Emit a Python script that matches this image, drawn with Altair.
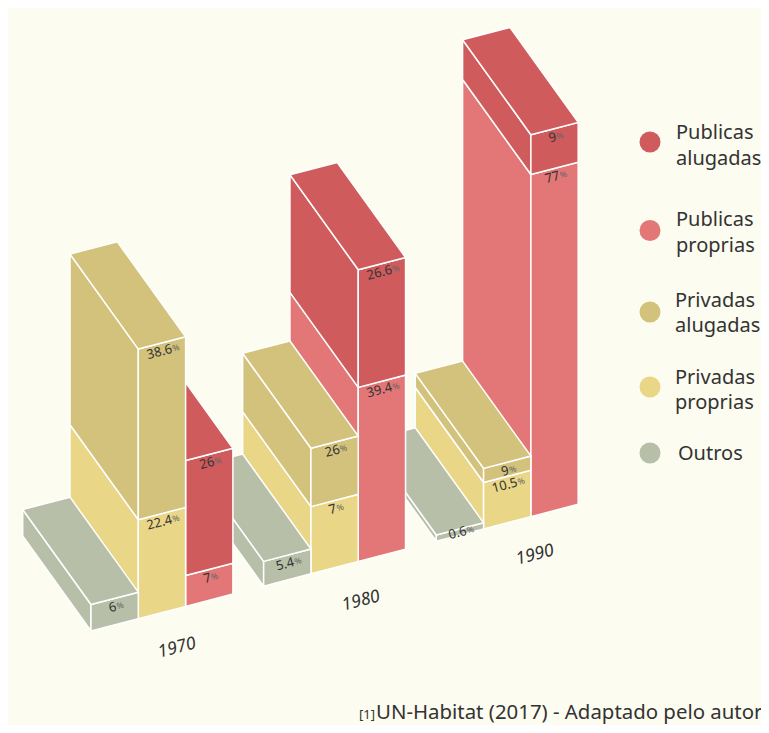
import math
import altair as alt
import pandas as pd

years = ["1970", "1980", "1990"]
series = ["Outros", "Privadas proprias", "Privadas alugadas", "Publicas proprias", "Publicas alugadas"]
colors = ["#b8bfa9", "#e9d687", "#d3c27b", "#e37777", "#cf5b5d"]
columns = [0, 1, 1, 2, 2]
heights = [
    [6, 5.6, 1.4],
    [22.4, 15.2, 10.5],
    [38.6, 13.2, 3.2],
    [7, 39.4, 77.4],
    [26, 26.6, 9],
]
labels = [
    ["6", "5.4", "0.6"],
    ["22.4", "7", "10.5"],
    ["38.6", "26", "9"],
    ["7", "39.4", "77"],
    ["26", "26.6", "9"],
]
legend_lines = [["Publicas", "alugadas"], ["Publicas", "proprias"], ["Privadas", "alugadas"], ["Privadas", "proprias"], ["Outros"]]
legend_series = ["Publicas alugadas", "Publicas proprias", "Privadas alugadas", "Privadas proprias", "Outros"]
source_ref = "[1]"
source_text = "UN-Habitat (2017) - Adaptado pelo autor"

W, H = 753, 717
FONT = "Noto Sans"
INK = "#333333"
ANGLE = 345.4
RAD = math.radians(14.6)
GROUP_STEP = 3.65


def project(u, depth, h):
    return 83 + 47.3 * u - 68.3 * depth, 623 - 12.3 * u - 95 * depth - 4.42 * h


rows, num_rows, pct_rows = [], [], []
poly = 0


def add_face(name, corners):
    global poly
    poly += 1
    for i, c in enumerate(corners + corners[:1]):
        x, y = project(*c)
        rows.append({"poly": poly, "ord": i, "x": x, "y": y, "series": name})


for g in range(2, -1, -1):
    for col in range(2, -1, -1):
        members = [s for s in range(5) if columns[s] == col]
        base = 0
        for s in members:
            u = col + g * GROUP_STEP
            h0, h1 = base, base + heights[s][g]
            add_face(series[s], [(u, 0, h0), (u, 1, h0), (u, 1, h1), (u, 0, h1)])
            add_face(series[s], [(u, 0, h0), (u + 1, 0, h0), (u + 1, 0, h1), (u, 0, h1)])
            if s == members[-1]:
                add_face(series[s], [(u, 0, h1), (u + 1, 0, h1), (u + 1, 1, h1), (u, 1, h1)])
            base = h1
            cx, cy = project(u + 0.5, 0, h1)
            text = labels[s][g]
            cx += 2
            cy += 3 if text == "0.6" else 8
            wn = sum(3.3 if ch == "." else 7.1 for ch in text)
            off = (wn - 8) / 2
            sx, sy = cx + off * math.cos(RAD), cy - off * math.sin(RAD)
            num_rows.append({"x": sx, "y": sy, "t": text})
            pct_rows.append({"x": sx, "y": sy, "t": "%"})

faces = pd.DataFrame(rows)
x_enc = alt.X("x:Q", scale=alt.Scale(domain=[0, W]), axis=None)
y_enc = alt.Y("y:Q", scale=alt.Scale(domain=[0, H], reverse=True), axis=None)

face_layer = alt.Chart(faces).mark_line(
    filled=True, stroke="#ffffff", strokeWidth=1.5, strokeJoin="miter", interpolate="linear"
).encode(
    x=x_enc, y=y_enc, detail="poly:N", order="ord:Q",
    fill=alt.Fill("series:N", scale=alt.Scale(domain=series, range=colors), legend=None),
)

num_layer = alt.Chart(pd.DataFrame(num_rows)).mark_text(
    align="right", baseline="middle", angle=ANGLE, font=FONT, fontSize=13, color=INK
).encode(x=x_enc, y=y_enc, text="t:N")
pct_layer = alt.Chart(pd.DataFrame(pct_rows)).mark_text(
    align="left", baseline="middle", angle=ANGLE, font=FONT, fontSize=8.5, color="#666666", dx=0.5
).encode(x=x_enc, y=y_enc, text="t:N")

year_x = [169, 353, 527]
year_y = [640, 593, 547]
year_layer = alt.Chart(pd.DataFrame({"x": year_x, "y": year_y, "t": years})).mark_text(
    align="center", baseline="middle", angle=ANGLE, font=FONT, fontSize=17.5, fontStyle="italic", color=INK
).encode(x=x_enc, y=y_enc, text="t:N")

legend_y = [134, 222.5, 304, 379, 445]
dots = alt.Chart(pd.DataFrame({"x": [642] * 5, "y": legend_y, "series": legend_series})).mark_point(
    filled=True, size=441, opacity=1, shape="circle"
).encode(
    x=x_enc, y=y_enc,
    fill=alt.Fill("series:N", scale=alt.Scale(domain=series, range=colors), legend=None),
)

legend_rows = []
line_x = [668, 668, 667, 667, 670]
line_base = [[131, 157], [218, 244], [299, 324], [376, 401], [452]]
for i, lines in enumerate(legend_lines):
    for t, b in zip(lines, line_base[i]):
        legend_rows.append({"x": line_x[i], "y": b, "t": t})
legend_text = alt.Chart(pd.DataFrame(legend_rows)).mark_text(
    align="left", baseline="alphabetic", font=FONT, fontSize=20, color=INK
).encode(x=x_enc, y=y_enc, text="t:N")

src_small = alt.Chart(pd.DataFrame({"x": [351], "y": [711], "t": [source_ref]})).mark_text(
    align="left", baseline="alphabetic", font=FONT, fontSize=13, color=INK
).encode(x=x_enc, y=y_enc, text="t:N")
src_main = alt.Chart(pd.DataFrame({"x": [368], "y": [711], "t": [source_text]})).mark_text(
    align="left", baseline="alphabetic", font=FONT, fontSize=20.4, color=INK
).encode(x=x_enc, y=y_enc, text="t:N")

chart = alt.layer(
    face_layer, num_layer, pct_layer, year_layer, dots, legend_text, src_small, src_main
).properties(
    width=W, height=H, background="#fcfcf0", padding=0, autosize=alt.AutoSizeParams(type="none")
).configure_view(strokeWidth=0)

chart.save("out.html", embed_options={"renderer": "svg", "actions": False})
